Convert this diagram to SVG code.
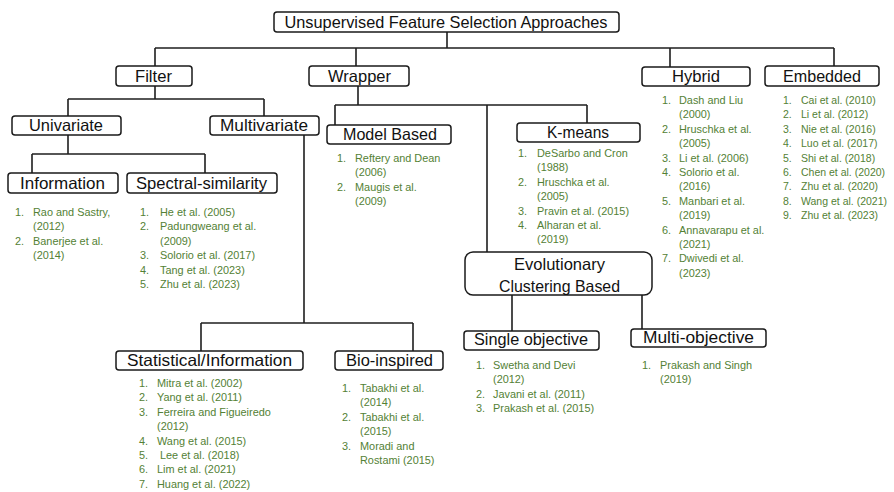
<svg xmlns="http://www.w3.org/2000/svg" width="894" height="492" viewBox="0 0 894 492">
<style>
.box{fill:#fff;stroke:#1a1a1a;stroke-width:1.5}
.h{font-family:"Liberation Sans",Arial,sans-serif;font-size:16.5px;fill:#111;text-anchor:middle}
.l{font-family:"Liberation Sans",Arial,sans-serif;font-size:10.9px;fill:#538135}
.e{font-size:10.5px}
.c{fill:none;stroke:#1f1f1f;stroke-width:1.6}
</style>
<rect width="894" height="492" fill="#fff"/>
<g id="connectors" class="c">
<path d="M447,32V48M155,48H834M155,48V66M356,48V66M670,48V67M834,48V66"/>
<path d="M155,86V99M68,99H264M68,99V116M264,99V116"/>
<path d="M68,135V154M32,154H205M32,154V173M205,154V173"/>
<path d="M304,135V323M201,323H413M201,323V351M413,323V351"/>
<path d="M358,86V105M335,105H587M335,105V125M587,105V123M487,105V252"/>
<path d="M512,295V331M642,295V329"/>
</g>
<g id="root"><rect class="box" x="274" y="12" width="345" height="20" rx="3"/><text class="h" x="446" y="28" textLength="323" lengthAdjust="spacingAndGlyphs">Unsupervised Feature Selection Approaches</text></g>
<g id="filter"><rect class="box" x="116" y="66" width="76" height="20" rx="3"/><text class="h" x="153.5" y="82" textLength="37" lengthAdjust="spacingAndGlyphs">Filter</text></g>
<g id="wrapper"><rect class="box" x="309" y="66" width="100" height="20" rx="3"/><text class="h" x="359.5" y="82" textLength="63" lengthAdjust="spacingAndGlyphs">Wrapper</text></g>
<g id="hybrid"><rect class="box" x="642" y="67" width="108" height="19" rx="3"/><text class="h" x="696" y="82" textLength="48" lengthAdjust="spacingAndGlyphs">Hybrid</text>
<text class="l"><tspan x="662" y="104">1.</tspan><tspan x="679" y="104">Dash and Liu</tspan><tspan x="679" y="118.4">(2000)</tspan><tspan x="662" y="132.8">2.</tspan><tspan x="679" y="132.8">Hruschka et al.</tspan><tspan x="679" y="147.2">(2005)</tspan><tspan x="662" y="161.6">3.</tspan><tspan x="679" y="161.6">Li et al. (2006)</tspan><tspan x="662" y="176">4.</tspan><tspan x="679" y="176">Solorio et al.</tspan><tspan x="679" y="190.4">(2016)</tspan><tspan x="662" y="204.8">5.</tspan><tspan x="679" y="204.8">Manbari et al.</tspan><tspan x="679" y="219.2">(2019)</tspan><tspan x="662" y="233.6">6.</tspan><tspan x="679" y="233.6">Annavarapu et al.</tspan><tspan x="679" y="248">(2021)</tspan><tspan x="662" y="262.4">7.</tspan><tspan x="679" y="262.4">Dwivedi et al.</tspan><tspan x="679" y="276.8">(2023)</tspan></text></g>
<g id="embedded"><rect class="box" x="765" y="66" width="114" height="20" rx="3"/><text class="h" x="822" y="82" textLength="78" lengthAdjust="spacingAndGlyphs">Embedded</text>
<text class="l e"><tspan x="783" y="104">1.</tspan><tspan x="801" y="104">Cai et al. (2010)</tspan><tspan x="783" y="118.4">2.</tspan><tspan x="801" y="118.4">Li et al. (2012)</tspan><tspan x="783" y="132.8">3.</tspan><tspan x="801" y="132.8">Nie et al. (2016)</tspan><tspan x="783" y="147.2">4.</tspan><tspan x="801" y="147.2">Luo et al. (2017)</tspan><tspan x="783" y="161.6">5.</tspan><tspan x="801" y="161.6">Shi et al. (2018)</tspan><tspan x="783" y="176">6.</tspan><tspan x="801" y="176">Chen et al. (2020)</tspan><tspan x="783" y="190.4">7.</tspan><tspan x="801" y="190.4">Zhu et al. (2020)</tspan><tspan x="783" y="204.8">8.</tspan><tspan x="801" y="204.8">Wang et al. (2021)</tspan><tspan x="783" y="219.2">9.</tspan><tspan x="801" y="219.2">Zhu et al. (2023)</tspan></text></g>
<g id="univariate"><rect class="box" x="12" y="116" width="109" height="19" rx="3"/><text class="h" x="66" y="131" textLength="74" lengthAdjust="spacingAndGlyphs">Univariate</text></g>
<g id="multivariate"><rect class="box" x="210" y="116" width="109" height="19" rx="3"/><text class="h" x="264" y="131" textLength="88" lengthAdjust="spacingAndGlyphs">Multivariate</text></g>
<g id="information"><rect class="box" x="8" y="173" width="110" height="20" rx="3"/><text class="h" x="62.5" y="189" textLength="85" lengthAdjust="spacingAndGlyphs">Information</text>
<text class="l"><tspan x="15" y="216">1.</tspan><tspan x="33" y="216">Rao and Sastry,</tspan><tspan x="33" y="230.4">(2012)</tspan><tspan x="15" y="244.8">2.</tspan><tspan x="33" y="244.8">Banerjee et al.</tspan><tspan x="33" y="259.2">(2014)</tspan></text></g>
<g id="spectral"><rect class="box" x="127" y="173" width="150" height="20" rx="3"/><text class="h" x="201.5" y="189" textLength="131" lengthAdjust="spacingAndGlyphs">Spectral-similarity</text>
<text class="l"><tspan x="140" y="216">1.</tspan><tspan x="160" y="216">He et al. (2005)</tspan><tspan x="140" y="230.4">2.</tspan><tspan x="160" y="230.4">Padungweang et al.</tspan><tspan x="160" y="244.8">(2009)</tspan><tspan x="140" y="259.2">3.</tspan><tspan x="160" y="259.2">Solorio et al. (2017)</tspan><tspan x="140" y="273.6">4.</tspan><tspan x="160" y="273.6">Tang et al. (2023)</tspan><tspan x="140" y="288">5.</tspan><tspan x="160" y="288">Zhu et al. (2023)</tspan></text></g>
<g id="modelbased"><rect class="box" x="327" y="125" width="124" height="19" rx="3"/><text class="h" x="390" y="140" textLength="94" lengthAdjust="spacingAndGlyphs">Model Based</text>
<text class="l"><tspan x="337" y="162">1.</tspan><tspan x="355" y="162">Reftery and Dean</tspan><tspan x="355" y="176.4">(2006)</tspan><tspan x="337" y="190.8">2.</tspan><tspan x="355" y="190.8">Maugis et al.</tspan><tspan x="355" y="205.2">(2009)</tspan></text></g>
<g id="kmeans"><rect class="box" x="517" y="123" width="123" height="19" rx="3"/><text class="h" x="578" y="138" textLength="62" lengthAdjust="spacingAndGlyphs">K-means</text>
<text class="l"><tspan x="518" y="157">1.</tspan><tspan x="537" y="157">DeSarbo and Cron</tspan><tspan x="537" y="171.4">(1988)</tspan><tspan x="518" y="185.8">2.</tspan><tspan x="537" y="185.8">Hruschka et al.</tspan><tspan x="537" y="200.2">(2005)</tspan><tspan x="518" y="214.6">3.</tspan><tspan x="537" y="214.6">Pravin et al. (2015)</tspan><tspan x="518" y="229">4.</tspan><tspan x="537" y="229">Alharan et al.</tspan><tspan x="537" y="243.4">(2019)</tspan></text></g>
<g id="evolutionary"><rect class="box" x="465" y="252" width="187" height="43" rx="8"/><text class="h" x="559.5" y="270" textLength="91" lengthAdjust="spacingAndGlyphs">Evolutionary</text><text class="h" x="559.5" y="292" textLength="121" lengthAdjust="spacingAndGlyphs">Clustering Based</text></g>
<g id="statistical"><rect class="box" x="116" y="351" width="187" height="19" rx="3"/><text class="h" x="209.5" y="366" textLength="165" lengthAdjust="spacingAndGlyphs">Statistical/Information</text>
<text class="l"><tspan x="139" y="387">1.</tspan><tspan x="157" y="387">Mitra et al. (2002)</tspan><tspan x="139" y="401.4">2.</tspan><tspan x="157" y="401.4">Yang et al. (2011)</tspan><tspan x="139" y="415.8">3.</tspan><tspan x="157" y="415.8">Ferreira and Figueiredo</tspan><tspan x="157" y="430.2">(2012)</tspan><tspan x="139" y="444.6">4.</tspan><tspan x="157" y="444.6">Wang et al. (2015)</tspan><tspan x="139" y="459">5.</tspan><tspan x="160" y="459">Lee et al. (2018)</tspan><tspan x="139" y="473.4">6.</tspan><tspan x="157" y="473.4">Lim et al. (2021)</tspan><tspan x="139" y="487.8">7.</tspan><tspan x="157" y="487.8">Huang et al. (2022)</tspan></text></g>
<g id="bioinspired"><rect class="box" x="335" y="351" width="108" height="19" rx="3"/><text class="h" x="389.5" y="366" textLength="87" lengthAdjust="spacingAndGlyphs">Bio-inspired</text>
<text class="l"><tspan x="342" y="392">1.</tspan><tspan x="360" y="392">Tabakhi et al.</tspan><tspan x="360" y="406.4">(2014)</tspan><tspan x="342" y="420.8">2.</tspan><tspan x="360" y="420.8">Tabakhi et al.</tspan><tspan x="360" y="435.2">(2015)</tspan><tspan x="342" y="449.6">3.</tspan><tspan x="360" y="449.6">Moradi and</tspan><tspan x="360" y="464">Rostami (2015)</tspan></text></g>
<g id="single"><rect class="box" x="464" y="331" width="135" height="19" rx="3"/><text class="h" x="531" y="345" textLength="114" lengthAdjust="spacingAndGlyphs">Single objective</text>
<text class="l"><tspan x="476" y="369">1.</tspan><tspan x="493" y="369">Swetha and Devi</tspan><tspan x="493" y="383.4">(2012)</tspan><tspan x="476" y="397.8">2.</tspan><tspan x="493" y="397.8">Javani et al. (2011)</tspan><tspan x="476" y="412.2">3.</tspan><tspan x="493" y="412.2">Prakash et al. (2015)</tspan></text></g>
<g id="multi"><rect class="box" x="631" y="329" width="135" height="18" rx="3"/><text class="h" x="698.5" y="343" textLength="111" lengthAdjust="spacingAndGlyphs">Multi-objective</text>
<text class="l"><tspan x="642" y="369">1.</tspan><tspan x="660" y="369">Prakash and Singh</tspan><tspan x="660" y="383.4">(2019)</tspan></text></g>
</svg>
